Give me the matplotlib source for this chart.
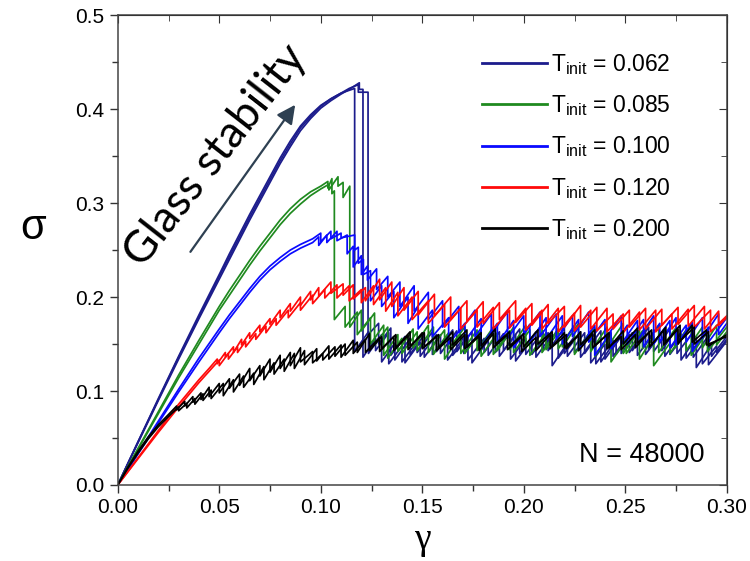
import matplotlib
matplotlib.use("Agg")
import matplotlib.pyplot as plt
from matplotlib.lines import Line2D
from matplotlib.ticker import MultipleLocator, FormatStrFormatter

plt.rcParams['font.family'] = ['Liberation Sans', 'DejaVu Sans']
plt.rcParams['mathtext.fontset'] = 'custom'
plt.rcParams['mathtext.rm'] = 'Liberation Sans'

# ---- data (gamma, sigma) ----
temps = ['0.062', '0.085', '0.100', '0.120', '0.200']
colors = ['#1c1c8c', '#1f8a1f', '#0a0aff', '#ff0a0a', '#000000']

# smooth loading branch, then teeth = [gamma, sigma before drop, sigma after drop]
navy_g = [0, 0.01, 0.02, 0.03, 0.04, 0.05, 0.055, 0.06, 0.065, 0.07, 0.075, 0.08, 0.085,
          0.09, 0.095, 0.10, 0.105, 0.11, 0.114]
navy_a_s = [0, 0.046, 0.092, 0.137, 0.181, 0.224, 0.246, 0.267, 0.288, 0.308, 0.328, 0.348, 0.366,
            0.382, 0.394, 0.404, 0.411, 0.417, 0.420]
navy_b_s = [0, 0.045, 0.090, 0.134, 0.177, 0.219, 0.240, 0.261, 0.282, 0.302, 0.322, 0.342, 0.360,
            0.377, 0.390, 0.401, 0.409, 0.416, 0.421]
navy_c_s = [0, 0.046, 0.091, 0.136, 0.179, 0.222, 0.243, 0.264, 0.285, 0.305, 0.325, 0.345, 0.363,
            0.380, 0.392, 0.403, 0.411, 0.417, 0.422]
navy_a_teeth = [
    [0.1167, 0.422, 0.142], [0.1235, 0.163, 0.140], [0.1300, 0.160, 0.131], [0.1365, 0.151, 0.133],
    [0.1440, 0.156, 0.139], [0.1510, 0.160, 0.136], [0.1590, 0.160, 0.140], [0.1670, 0.164, 0.142],
    [0.1745, 0.163, 0.130], [0.1825, 0.154, 0.138], [0.1900, 0.161, 0.143], [0.1980, 0.166, 0.140],
    [0.2060, 0.163, 0.136], [0.2140, 0.160, 0.127], [0.2215, 0.151, 0.137], [0.2300, 0.162, 0.140],
    [0.2380, 0.164, 0.131], [0.2455, 0.155, 0.139], [0.2535, 0.162, 0.143], [0.2615, 0.168, 0.144],
    [0.2695, 0.167, 0.137], [0.2775, 0.161, 0.133], [0.2850, 0.157, 0.125], [0.2925, 0.150, 0.137],
    [0.3000, 0.158, 0.158]]
navy_b_teeth = [
    [0.1190, 0.428, 0.421], [0.1208, 0.421, 0.136], [0.1270, 0.156, 0.143], [0.1335, 0.162, 0.129],
    [0.1400, 0.148, 0.131], [0.1475, 0.153, 0.141], [0.1550, 0.163, 0.139], [0.1625, 0.160, 0.133],
    [0.1705, 0.157, 0.140], [0.1780, 0.162, 0.145], [0.1860, 0.168, 0.141], [0.1935, 0.163, 0.134],
    [0.2010, 0.156, 0.139], [0.2095, 0.164, 0.143], [0.2170, 0.166, 0.135], [0.2250, 0.158, 0.141],
    [0.2330, 0.163, 0.130], [0.2400, 0.150, 0.134], [0.2480, 0.158, 0.140], [0.2560, 0.164, 0.138],
    [0.2640, 0.161, 0.142], [0.2720, 0.166, 0.139], [0.2800, 0.162, 0.135], [0.2880, 0.158, 0.129],
    [0.2950, 0.148, 0.141], [0.3000, 0.155, 0.155]]
navy_c_teeth = [
    [0.1185, 0.426, 0.418], [0.1233, 0.418, 0.160], [0.1285, 0.172, 0.150], [0.1345, 0.167, 0.138],
    [0.1415, 0.158, 0.130], [0.1490, 0.152, 0.137], [0.1570, 0.160, 0.142], [0.1650, 0.165, 0.138],
    [0.1725, 0.159, 0.133], [0.1805, 0.156, 0.141], [0.1880, 0.163, 0.137], [0.1960, 0.160, 0.132],
    [0.2040, 0.155, 0.139], [0.2120, 0.162, 0.143], [0.2200, 0.167, 0.140], [0.2280, 0.163, 0.136],
    [0.2355, 0.158, 0.129], [0.2440, 0.154, 0.137], [0.2520, 0.160, 0.141], [0.2600, 0.165, 0.139],
    [0.2680, 0.162, 0.143], [0.2755, 0.167, 0.140], [0.2835, 0.163, 0.136], [0.2910, 0.159, 0.128],
    [0.3000, 0.153, 0.153]]

green_g = [0, 0.01, 0.02, 0.03, 0.04, 0.05, 0.055, 0.06, 0.065, 0.07, 0.075, 0.08, 0.085,
           0.09, 0.095, 0.10]
green_a_s = [0, 0.039, 0.078, 0.117, 0.154, 0.190, 0.207, 0.223, 0.239, 0.254, 0.268, 0.282, 0.294,
             0.304, 0.312, 0.318]
green_b_s = [0, 0.038, 0.076, 0.114, 0.150, 0.186, 0.202, 0.218, 0.234, 0.249, 0.263, 0.277, 0.289,
             0.299, 0.308, 0.315]
green_a_teeth = [
    [0.1035, 0.323, 0.316], [0.1055, 0.326, 0.310], [0.1067, 0.313, 0.176], [0.1120, 0.190, 0.168],
    [0.1180, 0.184, 0.160], [0.1245, 0.178, 0.150], [0.1310, 0.170, 0.138], [0.1380, 0.160, 0.142],
    [0.1455, 0.166, 0.146], [0.1530, 0.170, 0.141], [0.1610, 0.165, 0.134], [0.1690, 0.160, 0.140],
    [0.1770, 0.165, 0.143], [0.1850, 0.168, 0.139], [0.1930, 0.164, 0.144], [0.2010, 0.170, 0.146],
    [0.2090, 0.171, 0.141], [0.2170, 0.166, 0.145], [0.2250, 0.170, 0.139], [0.2330, 0.164, 0.142],
    [0.2410, 0.168, 0.146], [0.2490, 0.172, 0.140], [0.2570, 0.165, 0.134], [0.2640, 0.158, 0.127],
    [0.2720, 0.151, 0.140], [0.2800, 0.165, 0.143], [0.2880, 0.168, 0.146], [0.2950, 0.170, 0.149],
    [0.3000, 0.163, 0.163]]
green_b_teeth = [
    [0.1040, 0.320, 0.314], [0.1085, 0.328, 0.318], [0.1110, 0.322, 0.306], [0.1143, 0.318, 0.168],
    [0.1200, 0.186, 0.164], [0.1265, 0.183, 0.149], [0.1330, 0.168, 0.135], [0.1400, 0.156, 0.140],
    [0.1475, 0.163, 0.143], [0.1555, 0.168, 0.139], [0.1630, 0.162, 0.145], [0.1710, 0.168, 0.140],
    [0.1790, 0.164, 0.137], [0.1870, 0.162, 0.143], [0.1950, 0.168, 0.141], [0.2030, 0.165, 0.138],
    [0.2110, 0.162, 0.144], [0.2190, 0.169, 0.147], [0.2270, 0.172, 0.143], [0.2350, 0.167, 0.137],
    [0.2430, 0.161, 0.131], [0.2505, 0.155, 0.140], [0.2585, 0.164, 0.145], [0.2665, 0.170, 0.141],
    [0.2745, 0.166, 0.146], [0.2825, 0.171, 0.138], [0.2905, 0.163, 0.142], [0.3000, 0.168, 0.168]]

blue_g = [0, 0.01, 0.02, 0.03, 0.04, 0.05, 0.055, 0.06, 0.065, 0.07, 0.075, 0.08, 0.085, 0.09, 0.096]
blue_a_s = [0, 0.034, 0.068, 0.102, 0.135, 0.166, 0.181, 0.195, 0.209, 0.222, 0.233, 0.242, 0.250,
            0.256, 0.262]
blue_b_s = [0, 0.033, 0.066, 0.099, 0.131, 0.162, 0.177, 0.191, 0.205, 0.218, 0.229, 0.238, 0.246,
            0.252, 0.258]
blue_a_teeth = [
    [0.1000, 0.268, 0.259], [0.1050, 0.270, 0.262], [0.1100, 0.268, 0.263], [0.1167, 0.266, 0.250],
    [0.1185, 0.253, 0.236], [0.1210, 0.240, 0.224], [0.1245, 0.228, 0.196], [0.1300, 0.212, 0.190],
    [0.1360, 0.206, 0.178], [0.1430, 0.200, 0.172], [0.1480, 0.190, 0.166], [0.1550, 0.186, 0.158],
    [0.1630, 0.178, 0.150], [0.1710, 0.172, 0.153], [0.1790, 0.177, 0.148], [0.1870, 0.172, 0.150],
    [0.1950, 0.175, 0.146], [0.2030, 0.171, 0.152], [0.2110, 0.178, 0.155], [0.2190, 0.180, 0.150],
    [0.2270, 0.176, 0.144], [0.2350, 0.170, 0.138], [0.2430, 0.163, 0.145], [0.2510, 0.170, 0.150],
    [0.2590, 0.176, 0.147], [0.2670, 0.172, 0.152], [0.2750, 0.178, 0.149], [0.2830, 0.173, 0.142],
    [0.2910, 0.168, 0.152], [0.3000, 0.178, 0.178]]
blue_b_teeth = [
    [0.0990, 0.264, 0.255], [0.1030, 0.266, 0.258], [0.1080, 0.270, 0.260], [0.1130, 0.266, 0.246],
    [0.1160, 0.254, 0.232], [0.1200, 0.244, 0.224], [0.1230, 0.233, 0.218], [0.1275, 0.230, 0.208],
    [0.1330, 0.222, 0.200], [0.1390, 0.216, 0.190], [0.1460, 0.212, 0.185], [0.1530, 0.205, 0.176],
    [0.1600, 0.196, 0.168], [0.1680, 0.190, 0.162], [0.1760, 0.186, 0.158], [0.1840, 0.182, 0.160],
    [0.1920, 0.185, 0.156], [0.2000, 0.180, 0.160], [0.2080, 0.184, 0.158], [0.2160, 0.182, 0.155],
    [0.2240, 0.180, 0.158], [0.2320, 0.184, 0.152], [0.2400, 0.176, 0.155], [0.2480, 0.180, 0.150],
    [0.2560, 0.175, 0.154], [0.2640, 0.180, 0.150], [0.2720, 0.175, 0.146], [0.2800, 0.170, 0.152],
    [0.2880, 0.178, 0.156], [0.2960, 0.182, 0.160], [0.3000, 0.172, 0.172]]

red_g = [0, 0.01, 0.02, 0.03, 0.04, 0.045]
red_a_s = [0, 0.029, 0.058, 0.086, 0.112, 0.124]
red_b_s = [0, 0.028, 0.056, 0.083, 0.109, 0.121]
red_a_teeth = [
    [0.0490, 0.134, 0.129], [0.0530, 0.141, 0.136], [0.0570, 0.147, 0.141], [0.0610, 0.155, 0.149],
    [0.0650, 0.162, 0.156], [0.0700, 0.170, 0.163], [0.0750, 0.177, 0.171], [0.0800, 0.186, 0.178],
    [0.0850, 0.193, 0.185], [0.0900, 0.200, 0.191], [0.0950, 0.206, 0.197], [0.0990, 0.210, 0.201],
    [0.1050, 0.216, 0.204], [0.1110, 0.214, 0.202], [0.1160, 0.213, 0.198], [0.1220, 0.210, 0.196],
    [0.1290, 0.219, 0.197], [0.1350, 0.216, 0.190], [0.1410, 0.210, 0.186], [0.1480, 0.206, 0.181],
    [0.1560, 0.203, 0.180], [0.1640, 0.200, 0.176], [0.1720, 0.196, 0.174], [0.1800, 0.195, 0.172],
    [0.1880, 0.194, 0.176], [0.1960, 0.196, 0.173], [0.2040, 0.193, 0.170], [0.2120, 0.192, 0.172],
    [0.2200, 0.190, 0.168], [0.2280, 0.191, 0.168], [0.2360, 0.189, 0.164], [0.2440, 0.182, 0.166],
    [0.2520, 0.186, 0.168], [0.2600, 0.188, 0.166], [0.2680, 0.187, 0.170], [0.2760, 0.189, 0.171],
    [0.2840, 0.191, 0.168], [0.2920, 0.186, 0.163], [0.3000, 0.180, 0.180]]
red_b_teeth = [
    [0.0500, 0.133, 0.127], [0.0545, 0.140, 0.134], [0.0590, 0.147, 0.141], [0.0630, 0.153, 0.147],
    [0.0680, 0.161, 0.155], [0.0730, 0.169, 0.162], [0.0780, 0.177, 0.170], [0.0840, 0.186, 0.178],
    [0.0900, 0.194, 0.186], [0.0960, 0.202, 0.193], [0.1020, 0.208, 0.199], [0.1080, 0.213, 0.199],
    [0.1140, 0.212, 0.196], [0.1200, 0.208, 0.194], [0.1260, 0.212, 0.192], [0.1320, 0.210, 0.185],
    [0.1380, 0.205, 0.180], [0.1450, 0.200, 0.176], [0.1530, 0.196, 0.172], [0.1610, 0.192, 0.168],
    [0.1690, 0.188, 0.166], [0.1770, 0.186, 0.168], [0.1850, 0.189, 0.166], [0.1930, 0.186, 0.167],
    [0.2010, 0.188, 0.165], [0.2090, 0.186, 0.166], [0.2170, 0.188, 0.163], [0.2250, 0.183, 0.164],
    [0.2330, 0.186, 0.166], [0.2410, 0.188, 0.163], [0.2490, 0.182, 0.162], [0.2570, 0.184, 0.165],
    [0.2650, 0.186, 0.163], [0.2730, 0.182, 0.166], [0.2810, 0.187, 0.169], [0.2890, 0.190, 0.166],
    [0.2960, 0.185, 0.170], [0.3000, 0.178, 0.178]]

black_g = [0, 0.005, 0.01, 0.015, 0.02, 0.025]
black_a_s = [0, 0.019, 0.036, 0.051, 0.064, 0.075]
black_b_s = [0, 0.018, 0.034, 0.049, 0.062, 0.073]
black_a_teeth = [
    [0.0290, 0.084, 0.080], [0.0330, 0.089, 0.084], [0.0370, 0.094, 0.088], [0.0410, 0.098, 0.091],
    [0.0450, 0.104, 0.094], [0.0500, 0.108, 0.098], [0.0550, 0.113, 0.103], [0.0600, 0.118, 0.106],
    [0.0650, 0.124, 0.111], [0.0700, 0.127, 0.116], [0.0750, 0.134, 0.120], [0.0800, 0.138, 0.124],
    [0.0850, 0.141, 0.127], [0.0900, 0.146, 0.131], [0.0960, 0.142, 0.130], [0.1010, 0.140, 0.133],
    [0.1070, 0.147, 0.137], [0.1120, 0.150, 0.138], [0.1180, 0.152, 0.141], [0.1240, 0.161, 0.143],
    [0.1300, 0.158, 0.145], [0.1370, 0.160, 0.146], [0.1440, 0.163, 0.148], [0.1510, 0.162, 0.147],
    [0.1580, 0.160, 0.146], [0.1650, 0.163, 0.149], [0.1720, 0.165, 0.147], [0.1790, 0.162, 0.148],
    [0.1860, 0.166, 0.150], [0.1930, 0.163, 0.148], [0.2000, 0.161, 0.147], [0.2070, 0.165, 0.150],
    [0.2140, 0.163, 0.147], [0.2210, 0.160, 0.145], [0.2280, 0.163, 0.149], [0.2350, 0.165, 0.148],
    [0.2420, 0.162, 0.146], [0.2490, 0.164, 0.150], [0.2560, 0.167, 0.151], [0.2630, 0.165, 0.149],
    [0.2700, 0.168, 0.152], [0.2770, 0.170, 0.153], [0.2840, 0.168, 0.150], [0.2910, 0.163, 0.148],
    [0.3000, 0.160, 0.160]]
black_b_teeth = [
    [0.0300, 0.083, 0.079], [0.0340, 0.087, 0.082], [0.0380, 0.092, 0.086], [0.0420, 0.097, 0.090],
    [0.0460, 0.101, 0.092], [0.0520, 0.108, 0.095], [0.0570, 0.112, 0.099], [0.0620, 0.116, 0.104],
    [0.0670, 0.119, 0.107], [0.0720, 0.126, 0.112], [0.0770, 0.130, 0.118], [0.0820, 0.134, 0.121],
    [0.0870, 0.140, 0.124], [0.0920, 0.143, 0.128], [0.0980, 0.145, 0.132], [0.1040, 0.148, 0.134],
    [0.1100, 0.149, 0.136], [0.1160, 0.154, 0.140], [0.1220, 0.155, 0.141], [0.1290, 0.157, 0.142],
    [0.1360, 0.158, 0.143], [0.1430, 0.159, 0.144], [0.1500, 0.162, 0.145], [0.1570, 0.158, 0.143],
    [0.1640, 0.157, 0.144], [0.1710, 0.160, 0.145], [0.1780, 0.158, 0.143], [0.1850, 0.161, 0.146],
    [0.1920, 0.160, 0.144], [0.1990, 0.158, 0.142], [0.2060, 0.157, 0.143], [0.2130, 0.160, 0.145],
    [0.2200, 0.162, 0.146], [0.2270, 0.159, 0.143], [0.2340, 0.161, 0.146], [0.2410, 0.160, 0.145],
    [0.2480, 0.158, 0.144], [0.2550, 0.160, 0.146], [0.2620, 0.163, 0.147], [0.2690, 0.165, 0.149],
    [0.2760, 0.166, 0.150], [0.2830, 0.170, 0.152], [0.2900, 0.165, 0.149], [0.3000, 0.158, 0.158]]

curves = [
    (0, navy_g, navy_a_s, navy_a_teeth), (0, navy_g, navy_b_s, navy_b_teeth), (0, navy_g, navy_c_s, navy_c_teeth),
    (1, green_g, green_a_s, green_a_teeth), (1, green_g, green_b_s, green_b_teeth),
    (2, blue_g, blue_a_s, blue_a_teeth), (2, blue_g, blue_b_s, blue_b_teeth),
    (3, red_g, red_a_s, red_a_teeth), (3, red_g, red_b_s, red_b_teeth),
    (4, black_g, black_a_s, black_a_teeth), (4, black_g, black_b_s, black_b_teeth),
]


def build(pre_g, pre_s, teeth):
    # loading branch followed by rise / vertical drop for each avalanche
    g = list(pre_g)
    s = list(pre_s)
    for tg, top, bot in teeth:
        g += [tg, tg]
        s += [top, bot]
    return g, s


fig = plt.figure(figsize=(7.5, 5.61), dpi=100)
ax = fig.add_axes([0.157, 0.1355, 0.812, 0.8375])

for ci, pg, ps, teeth in curves:
    g, s = build(pg, ps, teeth)
    ax.plot(g, s, color=colors[ci], lw=1.25)

ax.set_xlim(0, 0.30)
ax.set_ylim(0, 0.5)
ax.xaxis.set_major_locator(MultipleLocator(0.05))
ax.xaxis.set_minor_locator(MultipleLocator(0.025))
ax.yaxis.set_major_locator(MultipleLocator(0.1))
ax.yaxis.set_minor_locator(MultipleLocator(0.05))
ax.xaxis.set_major_formatter(FormatStrFormatter('%.2f'))
ax.yaxis.set_major_formatter(FormatStrFormatter('%.1f'))
ax.tick_params(which='both', direction='out', labelsize=15, colors='#333333', labelcolor='black')
ax.tick_params(which='major', length=6, width=1)
ax.tick_params(which='minor', length=4, width=1)
for sp in ax.spines.values():
    sp.set_color('#444444')
    sp.set_linewidth(1.1)

# mirrored inward ticks on top and right
top = ax.secondary_xaxis('top')
top.xaxis.set_major_locator(MultipleLocator(0.05))
top.xaxis.set_minor_locator(MultipleLocator(0.025))
top.tick_params(which='both', direction='in', labeltop=False, colors='#333333')
top.tick_params(which='major', length=6)
top.tick_params(which='minor', length=4)
right = ax.secondary_yaxis('right')
right.yaxis.set_major_locator(MultipleLocator(0.1))
right.yaxis.set_minor_locator(MultipleLocator(0.05))
right.tick_params(which='both', direction='in', labelright=False, colors='#333333')
right.tick_params(which='major', length=6)
right.tick_params(which='minor', length=4)

fig.text(422 / 750, 1 - 540 / 561, 'γ', fontsize=27, family='Liberation Serif', ha='center', va='center')
fig.text(33 / 750, 1 - 228 / 561, 'σ', fontsize=30, ha='center', va='center')

handles = [Line2D([], [], color=c, lw=2) for c in colors]
labels = [r'T$_{\mathregular{init}}$ = ' + t for t in temps]
ax.legend(handles, labels, loc='upper left', bbox_to_anchor=(0.598, 0.922), frameon=False,
          fontsize=16.5, handlelength=2.85, handletextpad=0.15, labelspacing=0.72,
          borderpad=0, borderaxespad=0)

ax.text(0.964, 0.064, 'N = 48000', transform=ax.transAxes, fontsize=19.5, ha='right', va='center')

ax.annotate('', xy=(0.0882, 0.407), xytext=(0.035, 0.2457),
            arrowprops=dict(arrowstyle='-|>', color='#2e4052', lw=1.6, mutation_scale=28))
ax.text(0.160, 0.702, 'Glass stability', transform=ax.transAxes, fontsize=32, family='Lato',
        rotation=52, ha='center', va='center', rotation_mode='anchor')

fig.savefig('out.png', dpi=100)
